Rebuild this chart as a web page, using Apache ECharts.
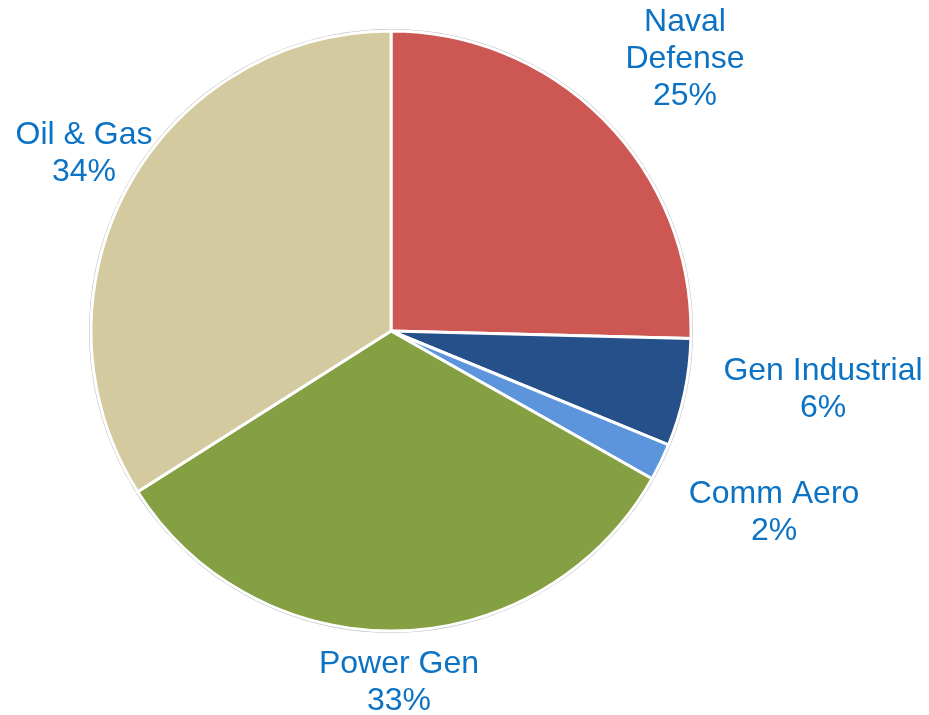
<!DOCTYPE html>
<html>
<head>
<meta charset="utf-8">
<script src="https://cdn.jsdelivr.net/npm/echarts@6/dist/echarts.min.js"></script>
<style>html,body{margin:0;padding:0;background:#fff}#c{width:929px;height:715px}</style>
</head>
<body>
<div id="c"></div>
<script>
const categories = ['Naval\nDefense', 'Gen Industrial', 'Comm Aero', 'Power Gen', 'Oil & Gas'];
const values = [25.4, 5.8, 2.0, 32.8, 34.0];
const colors = ['#CD5753', '#25508A', '#5C95DB', '#84A043', '#D3CB9F'];
const labelPos = [[685, 59], [823, 390], [774, 513], [399, 683], [84, 154]];

const chart = echarts.init(document.getElementById('c'));
chart.setOption({
  animation: false,
  series: [
    {
      type: 'pie', silent: true, center: [391, 331], radius: 302,
      label: {show: false}, labelLine: {show: false},
      data: [{value: 1, itemStyle: {color: '#BDBDBD'}}], z: 1
    },
    {
      type: 'pie', center: [391, 331], radius: 300, startAngle: 90, clockwise: true,
      percentPrecision: 0, z: 2,
      itemStyle: {borderColor: '#FFFFFF', borderWidth: 3},
      label: {
        show: true, formatter: '{b}\n{d}%', fontFamily: 'Liberation Sans, Arial, sans-serif',
        fontSize: 32, lineHeight: 37, color: '#0B72C4', align: 'center',
        overflow: 'none', width: 300
      },
      labelLine: {show: false},
      labelLayout: function (p) {
        const pos = labelPos[p.dataIndex];
        return {x: pos[0], y: pos[1], align: 'center', verticalAlign: 'middle'};
      },
      data: categories.map((n, i) => ({name: n, value: values[i], itemStyle: {color: colors[i]}}))
    }
  ]
});
</script>
</body>
</html>
